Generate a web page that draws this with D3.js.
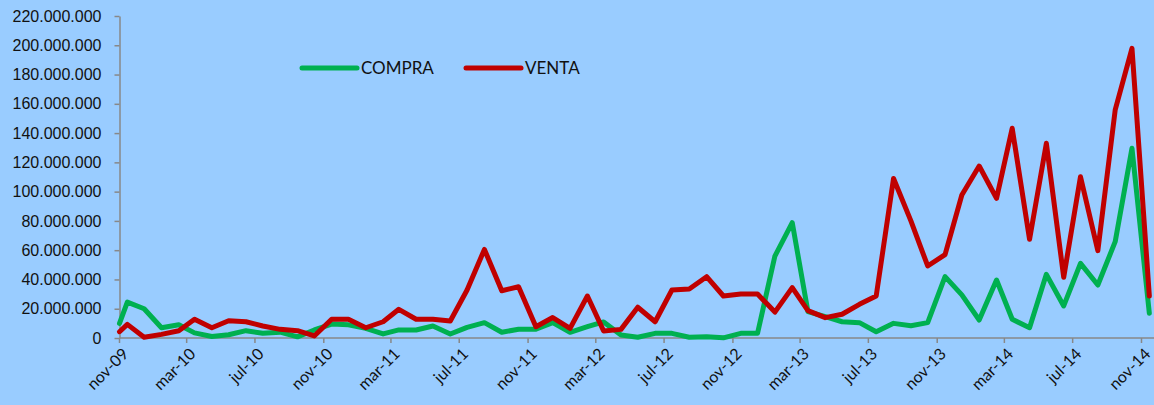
<!DOCTYPE html>
<html>
<head>
<meta charset="utf-8">
<script src="https://cdn.jsdelivr.net/npm/d3@7"></script>
<style>
  html, body { margin: 0; padding: 0; background: #99ccff; }
  svg { display: block; font-family: Lato, "Open Sans", sans-serif; }
</style>
</head>
<body>
<svg width="1154" height="405"></svg>
<script>
const svg = d3.select('svg');

const width = +svg.attr('width');
const height = +svg.attr('height');

// first point sits on the axis start, the rest are mid-month
const fechas = [
  '2009-11-01',
  '2009-11-15', '2009-12-15',
  '2010-01-15', '2010-02-15', '2010-03-15', '2010-04-15', '2010-05-15', '2010-06-15',
  '2010-07-15', '2010-08-15', '2010-09-15', '2010-10-15', '2010-11-15', '2010-12-15',
  '2011-01-15', '2011-02-15', '2011-03-15', '2011-04-15', '2011-05-15', '2011-06-15',
  '2011-07-15', '2011-08-15', '2011-09-15', '2011-10-15', '2011-11-15', '2011-12-15',
  '2012-01-15', '2012-02-15', '2012-03-15', '2012-04-15', '2012-05-15', '2012-06-15',
  '2012-07-15', '2012-08-15', '2012-09-15', '2012-10-15', '2012-11-15', '2012-12-15',
  '2013-01-15', '2013-02-15', '2013-03-15', '2013-04-15', '2013-05-15', '2013-06-15',
  '2013-07-15', '2013-08-15', '2013-09-15', '2013-10-15', '2013-11-15', '2013-12-15',
  '2014-01-15', '2014-02-15', '2014-03-15', '2014-04-15', '2014-05-15', '2014-06-15',
  '2014-07-15', '2014-08-15', '2014-09-15', '2014-10-15', '2014-11-15'
];

// millions
const compra = [
  10, 24.5, 20,
  7, 9, 3.5, 1, 2.2, 5, 3.2, 4, 0.8, 5.5, 9.5, 9,
  6.6, 2.8, 5.5, 5.5, 8.2, 2.7, 7.3, 10.5, 3.9, 6, 6, 10.5,
  3.9, 7.7, 11, 2, 0.5, 3.2, 3.2, 0.5, 0.9, 0.1, 3.2, 3.2,
  56, 78.8, 18, 14.6, 11.1, 10.5, 4.3, 10, 8.4, 10.5, 41.9, 29.5,
  12.3, 39.6, 12.8, 7, 43.5, 21.9, 51, 36.2, 65.8, 129.6, 16.9
];

const venta = [
  4.3, 9.3, 0.5,
  2.5, 5, 12.8, 7, 11.8, 11.1, 8.2, 5.9, 5, 1.4, 12.8, 12.8,
  7, 11.1, 19.6, 12.8, 12.8, 11.6, 32.8, 60.5, 32.3, 35, 7.7, 14,
  6.6, 28.7, 4.8, 5.9, 21, 11.1, 32.8, 33.5, 41.9, 28.7, 30, 30,
  17.7, 34.4, 18.7, 13.9, 16.2, 23, 28.7, 109, 80, 49.2, 57, 97.7,
  117.5, 95.4, 143.3, 67.4, 133, 41.5, 110.2, 59.7, 155.8, 197.9, 28.7
];

const tickLabels = ['nov-09', 'mar-10', 'jul-10', 'nov-10', 'mar-11', 'jul-11', 'nov-11', 'mar-12',
  'jul-12', 'nov-12', 'mar-13', 'jul-13', 'nov-13', 'mar-14', 'jul-14', 'nov-14'];

const yTicks = [0, 20, 40, 60, 80, 100, 120, 140, 160, 180, 200, 220];

const parse = d3.timeParse('%Y-%m-%d');
const start = parse('2009-11-01');

const x = d3.scaleTime()
  .domain([start, parse('2014-11-01')])
  .range([119.5, 1141.5]);

const y = d3.scaleLinear()
  .domain([0, 220e6])
  .range([338, 16]);

const es = d3.formatLocale({ decimal: ',', thousands: '.', grouping: [3], currency: ['', ''] });
const fmt = es.format(',d');

svg.append('rect').attr('width', width).attr('height', height).attr('fill', '#99ccff');

// y axis
const yAxis = svg.append('g')
  .attr('transform', 'translate(119.5,0)')
  .call(d3.axisLeft(y).tickValues(yTicks.map(d => d * 1e6)).tickFormat(fmt).tickSize(5).tickPadding(13).tickSizeOuter(0));
yAxis.select('.domain').attr('stroke', '#888').attr('stroke-width', 1.5);
yAxis.selectAll('.tick line').attr('stroke', '#888').attr('stroke-width', 1.5);
yAxis.selectAll('.tick text').attr('fill', '#111').style('font-size', '16px');

// x axis
const tickDates = tickLabels.map((d, i) => d3.timeMonth.offset(start, i * 4));
const xg = svg.append('g').attr('transform', 'translate(0,338)');
xg.append('line')
  .attr('x1', 119.5).attr('x2', width)
  .attr('stroke', '#888').attr('stroke-width', 1.5);
xg.selectAll('line.tk').data(tickDates)
  .enter().append('line')
  .attr('class', 'tk')
  .attr('x1', d => x(d)).attr('x2', d => x(d))
  .attr('y1', 0).attr('y2', 5)
  .attr('stroke', '#888').attr('stroke-width', 1.5);
xg.selectAll('text').data(tickDates)
  .enter().append('text')
  .attr('transform', d => `translate(${x(d) + 6},13) rotate(-45)`)
  .attr('text-anchor', 'end')
  .attr('dy', '0.35em')
  .attr('fill', '#111')
  .style('font-size', '16px')
  .text((d, i) => tickLabels[i]);

// lines
const series = [
  { name: 'COMPRA', values: compra, color: '#00b050' },
  { name: 'VENTA', values: venta, color: '#c00000' }
];

const line = d3.line()
  .x((d, i) => x(parse(fechas[i])))
  .y(d => y(d * 1e6));

svg.selectAll('path.serie').data(series)
  .enter().append('path')
  .attr('class', 'serie')
  .attr('d', d => line(d.values))
  .attr('fill', 'none')
  .attr('stroke', d => d.color)
  .attr('stroke-width', 5)
  .attr('stroke-linejoin', 'round')
  .attr('stroke-linecap', 'round');

// legend
const legend = svg.selectAll('g.leg').data(series)
  .enter().append('g')
  .attr('class', 'leg')
  .attr('transform', (d, i) => `translate(${302 + i * 164},68)`);
legend.append('line')
  .attr('x1', 0).attr('x2', 55)
  .attr('stroke', d => d.color)
  .attr('stroke-width', 5)
  .attr('stroke-linecap', 'round');
legend.append('text')
  .attr('x', 59)
  .attr('dy', '0.35em')
  .attr('fill', '#111')
  .style('font-size', '17px')
  .text(d => d.name);
</script>
</body>
</html>
